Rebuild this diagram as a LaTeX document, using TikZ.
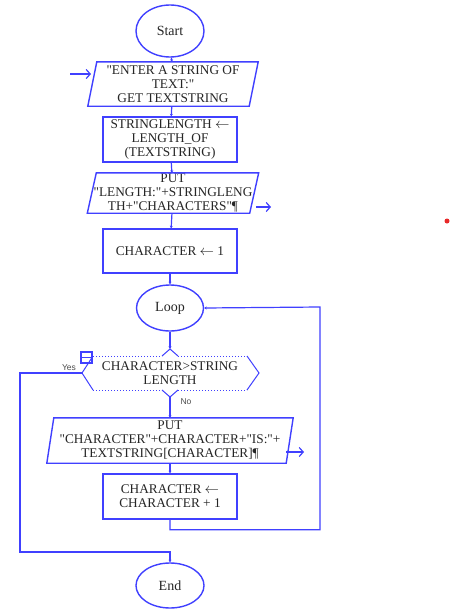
\documentclass[tikz,border=0pt]{standalone}
\usepackage{fontspec}
\setmainfont{Liberation Serif}[Ligatures=TeXOff]
\newfontfamily\labfont{Liberation Sans}
\usetikzlibrary{shapes.geometric,arrows.meta,calc}
\definecolor{fblue}{RGB}{64,64,255}
\definecolor{fred}{RGB}{232,40,40}
\begin{document}
\begin{tikzpicture}[x=1pt,y=-1pt,
  ln/.style={draw=fblue,line width=1.4pt},
  txt/.style={font=\fontsize{13.3}{14}\selectfont,align=center,inner sep=0pt,text=black!85},
  term/.style={ellipse,ln,txt,inner sep=0pt,font=\fontsize{14}{14}\selectfont},
  proc/.style={rectangle,ln,txt},
  io/.style={rectangle,draw=none,txt},
  flow/.style={fblue,line width=1.2pt,-{Stealth[length=2.5pt,width=3pt]}},
  side/.style={fblue,line width=1.2pt,-{Straight Barb[length=4pt,width=9pt]}},
  lab/.style={font=\labfont\fontsize{8.5}{9}\selectfont,text=black!70,inner sep=0pt}]
\useasboundingbox (0,0) rectangle (451,616);
\fill[white] (0,0) rectangle (451,616);

% nodes
\node[term,minimum width=68pt,minimum height=52pt] (start) at (170,31) {Start};
\node[io,minimum width=161pt,minimum height=44pt] (in1) at (173,84)
  {"ENTER A STRING OF\\TEXT:"\\GET TEXTSTRING};
\node[proc,minimum width=134pt,minimum height=45pt] (len) at (170,139.5)
  {STRINGLENGTH $\leftarrow$\\LENGTH\_OF\\(TEXTSTRING)};
\node[io,minimum width=162pt,minimum height=40pt] (out1) at (173,193)
  {PUT\\"LENGTH:"+STRINGLENG\\TH+"CHARACTERS"¶};
\node[proc,minimum width=134pt,minimum height=44pt] (init) at (170,251)
  {CHARACTER $\leftarrow$ 1};
\node[term,minimum width=67pt,minimum height=46pt] (loop) at (170,308) {Loop};
\node[io,minimum width=154pt,minimum height=34pt] (dec) at (170,373)
  {CHARACTER>STRING\\LENGTH};
\node[io,minimum width=239pt,minimum height=45pt] (out2) at (170,440.5)
  {PUT\\"CHARACTER"+CHARACTER+"IS:"+\\TEXTSTRING[CHARACTER]¶};
\node[proc,minimum width=134pt,minimum height=45pt] (inc) at (170,496.5)
  {CHARACTER $\leftarrow$\\CHARACTER + 1};
\node[term,minimum width=68pt,minimum height=45pt] (end) at (170,585.5) {End};

% parallelograms
\draw[ln] ([xshift=4.5pt]in1.north west) -- ([xshift=4.5pt]in1.north east)
  -- ([xshift=-4.5pt]in1.south east) -- ([xshift=-4.5pt]in1.south west) -- cycle;
\draw[ln] ([xshift=4.5pt]out1.north west) -- ([xshift=4.5pt]out1.north east)
  -- ([xshift=-4.5pt]out1.south east) -- ([xshift=-4.5pt]out1.south west) -- cycle;
\draw[ln] ([xshift=3.5pt]out2.north west) -- ([xshift=3.5pt]out2.north east)
  -- ([xshift=-3.5pt]out2.south east) -- ([xshift=-3.5pt]out2.south west) -- cycle;

% decision hexagon
\coordinate (dW) at (82,373);
\coordinate (dE) at (259,373);
\coordinate (dTop) at (170,349);
\coordinate (dBot) at (170,397);
\draw[fblue,line width=1pt,dotted] (93,356) -- (162,356);
\draw[fblue,line width=1pt,dotted] (178,356) -- (247,356);
\draw[fblue,line width=1pt,dotted] (93,390) -- (162,390);
\draw[fblue,line width=1pt,dotted] (178,390) -- (247,390);
\draw[fblue,line width=1pt] (93,356) -- (dW) -- (93,390);
\draw[fblue,line width=1pt] (247,356) -- (dE) -- (247,390);
\draw[fblue,line width=1pt] (162,356) -- (dTop) -- (178,356);
\draw[fblue,line width=1pt] (162,390) -- (dBot) -- (178,390);
\draw[fblue,line width=1.2pt] (81,352) rectangle (92,363) (81,357.5) -- (92,357.5);

% connectors
\draw[flow] (start) -- (in1);
\draw[flow] (in1) -- (len);
\draw[flow] (len) -- (out1);
\draw[flow] (out1) -- (init);
\draw[flow] (init) -- (loop);
\draw[flow] (loop) -- (dTop);
\draw[flow] (dBot) -- (out2);
\draw[flow] (out2) -- (inc);
\draw[flow] (inc.south) -- ++(0,10) -| (320,307) -- (loop.east);
\draw[flow] (dW) -- (20,373) |- (170,552) -- (end.north);

% side arrows
\coordinate (a1) at (70,74);
\coordinate (a1e) at (91,74);
\draw[side] (a1) -- (a1e);
\coordinate (a2) at (256,207);
\coordinate (a2e) at (271,207);
\draw[side] (a2) -- (a2e);
\coordinate (a3) at (286,452);
\coordinate (a3e) at (304,452);
\draw[side] (a3) -- (a3e);

% labels
\node[lab] (yes) at (69,368) {Yes};
\node[lab] (no) at (186,402) {No};

% stray dot
\fill[fred] (447,221) circle (2.5pt);
\end{tikzpicture}
\end{document}
